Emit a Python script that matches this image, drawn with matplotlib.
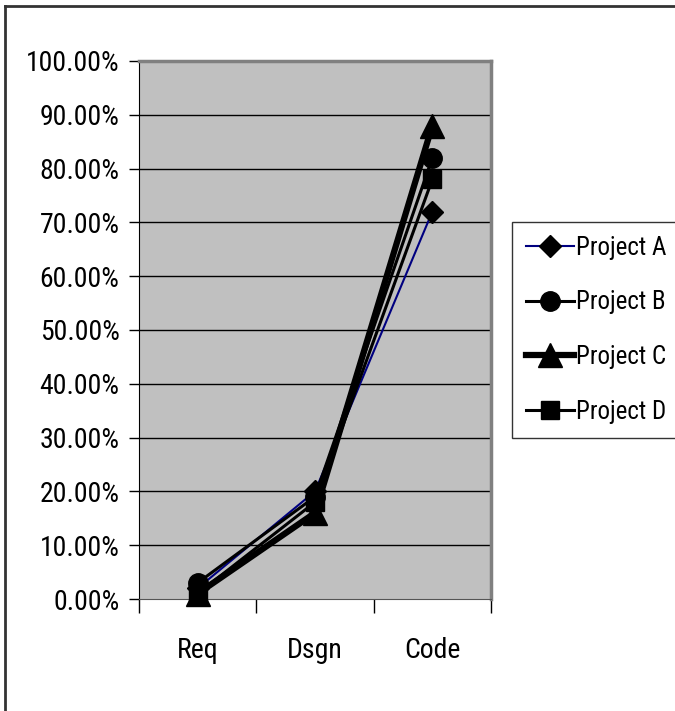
import numpy as np
import matplotlib.pyplot as plt
from matplotlib.lines import Line2D
from matplotlib.ticker import FixedLocator, FuncFormatter

plt.rcParams['font.family'] = ['Liberation Sans Narrow', 'Roboto Condensed', 'Archivo Narrow',
                               'PT Sans Narrow', 'Liberation Sans', 'DejaVu Sans']

phases = ['Req', 'Dsgn', 'Code']
project_a = [2.0, 20.0, 72.0]
project_b = [3.0, 19.0, 82.0]
project_c = [1.0, 16.0, 88.0]
project_d = [1.0, 18.0, 78.0]
y_ticks = np.arange(0, 101, 10)

fig = plt.figure(figsize=(6.75, 7.11), dpi=100)
ax = fig.add_axes([139 / 675, 1 - 599 / 711, 352 / 675, 538 / 711])
ax.set_facecolor('#c0c0c0')

x = np.arange(len(phases))
series = [
    ('Project A', project_a, '#000080', 1.5, 'D', 11),
    ('Project B', project_b, 'black', 2.2, 'o', 14),
    ('Project C', project_c, 'black', 4.5, '^', 17),
    ('Project D', project_d, 'black', 2.2, 's', 13),
]
for name, vals, color, lw, mk, ms in series:
    ax.plot(x, vals, color=color, lw=lw, marker=mk, markersize=ms,
            markerfacecolor='black', markeredgecolor='black',
            label=name, clip_on=False, zorder=3)

ax.set_xlim(-0.5, 2.5)
ax.set_ylim(0, 100)
ax.yaxis.set_major_locator(FixedLocator(y_ticks))
ax.yaxis.set_major_formatter(FuncFormatter(lambda v, p: f'{v:.2f}%'))
ax.set_xticks(x)
ax.set_xticklabels(phases)
ax.xaxis.set_minor_locator(FixedLocator([-0.5, 0.5, 1.5, 2.5]))
ax.tick_params(axis='x', which='major', length=0, labelsize=20, pad=27)
ax.tick_params(axis='x', which='minor', length=10, width=1, color='black')
ax.tick_params(axis='y', length=7, width=1, labelsize=20, pad=7)

for v in y_ticks[1:-1]:
    ax.axhline(v, color='black', lw=1, zorder=1)

ax.spines['left'].set_color('black')
ax.spines['bottom'].set_color('#555555')
ax.spines['top'].set_color('#808080')
ax.spines['right'].set_color('#808080')
for s in ['top', 'right']:
    ax.spines[s].set_linewidth(2.5)

leg = ax.legend(loc='upper left', bbox_to_anchor=(512 / 675, 1 - 222 / 711),
                bbox_transform=fig.transFigure, fontsize=18, frameon=True,
                fancybox=False, edgecolor='black', handlelength=1.9,
                handletextpad=0.1, labelspacing=1.22, borderpad=0.56,
                borderaxespad=0, markerscale=1.0)
leg.get_frame().set_linewidth(1.0)

# outer chart frame
fig.add_artist(Line2D([5 / 675, 5 / 675], [1 - 6 / 711, 0], transform=fig.transFigure,
                      color='#333333', lw=2))
fig.add_artist(Line2D([5 / 675, 1], [1 - 6 / 711, 1 - 6 / 711], transform=fig.transFigure,
                      color='#333333', lw=2))

fig.savefig('out.png', dpi=100)
